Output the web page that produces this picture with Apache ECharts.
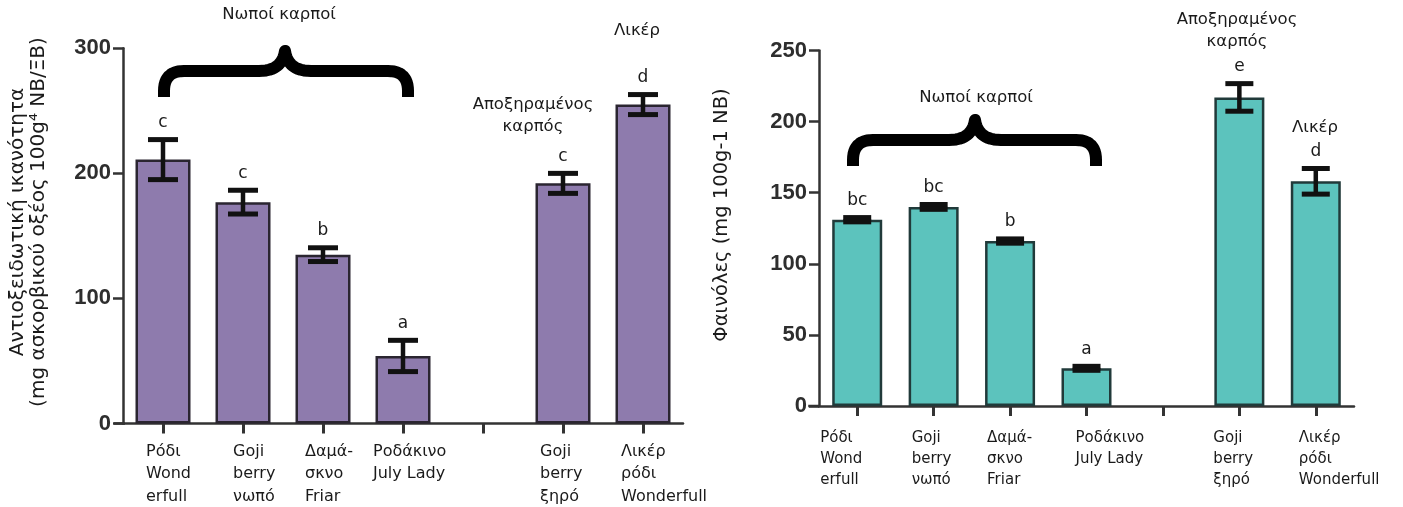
<!DOCTYPE html>
<html><head><meta charset="utf-8">
<script src="https://cdn.jsdelivr.net/npm/echarts@6/dist/echarts.min.js"></script>
<style>html,body{margin:0;padding:0;background:#fff}#c{width:1403px;height:507px}</style>
</head><body><div id="c"></div>
<script>
// ---------- data ----------
const categories = ['Ρόδι\nWond\nerfull', 'Goji\nberry\nνωπό', 'Δαμά-\nσκνο\nFriar', 'Ροδάκινο\nJuly Lady', '', 'Goji\nberry\nξηρό', 'Λικέρ\nρόδι\nWonderfull'];
const antioxValues = [211, 177, 135, 54, null, 192, 255];
const antioxErrors = [16, 9.5, 5.5, 12.5, null, 8, 8];
const antioxLetters = ['c', 'c', 'b', 'a', '', 'c', 'd'];
const phenolValues = [131, 140, 116, 26.5, null, 217, 158];
const phenolErrors = [1.5, 1.7, 1.5, 1.4, null, 9.7, 9];
const phenolLetters = ['bc', 'bc', 'b', 'a', '', 'e', 'd'];
const antioxTicks = [0, 100, 200, 300];
const phenolTicks = [0, 50, 100, 150, 200, 250];
const antioxTitle = 'Αντιοξειδωτική ικανότητα\n(mg ασκορβικού οξέος 100g⁴ NB/ΞΒ)';
const phenolTitle = 'Φαινόλες (mg 100g-1 NB)';
const groupFresh = 'Νωποί καρποί';
const groupDried = 'Αποξηραμένος\nκαρπός';
const groupLiqueur = 'Λικέρ';

// ---------- layout / style ----------
const FONT = '"DejaVu Sans", sans-serif';
const INK = '#1a1a1a';
const AXIS = '#333';
const leftLabelDx = [-17, -10, -18, -30, 0, -23, -22];
const rightLabelDx = [-37, -22, -23, -11, 0, -26, -17];

const chart = echarts.init(document.getElementById('c'), null, {renderer: 'canvas'});

function yAxisCfg(grid, ticks) {
  return {
    type: 'value', gridIndex: grid,
    min: ticks[0], max: ticks[ticks.length - 1], interval: ticks[1] - ticks[0],
    axisLine: {show: true, lineStyle: {color: AXIS, width: 2.5}},
    axisTick: {show: true, length: 10, lineStyle: {color: AXIS, width: 2.5}},
    axisLabel: {margin: 12, color: '#2e2e2e', fontFamily: '"Liberation Sans", Arial, sans-serif', fontWeight: 'bold', fontSize: 22},
    splitLine: {show: false}
  };
}
function xAxisCfg(grid) {
  return {
    type: 'category', gridIndex: grid, data: categories, boundaryGap: true,
    axisLine: {show: true, lineStyle: {color: AXIS, width: 2.5}},
    axisTick: {show: true, alignWithLabel: true, length: 10, lineStyle: {color: AXIS, width: 3}},
    axisLabel: {show: false}
  };
}
function errData(vals, errs) {
  const out = [];
  vals.forEach((v, i) => { if (v != null) out.push([i, v, errs[i]]); });
  return out;
}
function errRender(letters, hw) {
  return function (params, api) {
    const i = api.value(0), v = api.value(1), e = api.value(2);
    const top = api.coord([i, v + e]);
    const bot = api.coord([i, v - e]);
    const st = {stroke: '#111', lineWidth: 4.5};
    const cap = {stroke: '#111', lineWidth: 5};
    return {
      type: 'group', children: [
        {type: 'line', shape: {x1: top[0], y1: top[1], x2: bot[0], y2: bot[1]}, style: st},
        {type: 'line', shape: {x1: top[0] - hw, y1: top[1], x2: top[0] + hw, y2: top[1]}, style: cap},
        {type: 'line', shape: {x1: bot[0] - hw, y1: bot[1], x2: bot[0] + hw, y2: bot[1]}, style: cap},
        {type: 'text', style: {text: letters[i], x: top[0], y: top[1] - 17, align: 'center', verticalAlign: 'middle',
          font: '17px ' + FONT, fill: INK}}
      ]
    };
  };
}

chart.setOption({
  animation: false,
  backgroundColor: '#fff',
  grid: [
    {left: 123, top: 48.3, width: 560, height: 375.2},
    {left: 819, top: 50.5, width: 535, height: 355.5}
  ],
  xAxis: [xAxisCfg(0), xAxisCfg(1)],
  yAxis: [yAxisCfg(0, antioxTicks), yAxisCfg(1, phenolTicks)],
  series: [
    {type: 'bar', xAxisIndex: 0, yAxisIndex: 0, data: antioxValues, barWidth: 55,
      itemStyle: {color: '#8e7bad', borderColor: '#2a2530', borderWidth: 2.5}},
    {type: 'bar', xAxisIndex: 1, yAxisIndex: 1, data: phenolValues, barWidth: 50,
      itemStyle: {color: '#5cc3bd', borderColor: '#213a3a', borderWidth: 2.5}},
    {type: 'custom', xAxisIndex: 0, yAxisIndex: 0, data: errData(antioxValues, antioxErrors),
      renderItem: errRender(antioxLetters, 15), z: 10},
    {type: 'custom', xAxisIndex: 1, yAxisIndex: 1, data: errData(phenolValues, phenolErrors),
      renderItem: errRender(phenolLetters, 14), z: 10}
  ]
});

// ---------- annotations ----------
function bracePoints(x1, x2, xc, yb, ym, yp, r) {
  const pts = [[x1, yb]];
  const quad = (p0, c, p1) => {
    for (let k = 0; k <= 12; k++) {
      const t = k / 12, a = (1 - t) * (1 - t), b = 2 * (1 - t) * t, d = t * t;
      pts.push([a * p0[0] + b * c[0] + d * p1[0], a * p0[1] + b * c[1] + d * p1[1]]);
    }
  };
  quad([x1, ym + r], [x1, ym], [x1 + r, ym]);
  quad([xc - 26, ym], [xc - 3, ym], [xc, yp]);
  quad([xc, yp], [xc + 3, ym], [xc + 26, ym]);
  quad([x2 - r, ym], [x2, ym], [x2, ym + r]);
  pts.push([x2, yb]);
  return pts;
}
function txt(text, x, y, size, extra, lh) {
  return Object.assign({type: 'text', x: x, y: y, style: {text: text, font: size + 'px ' + FONT, fill: INK,
    align: 'center', verticalAlign: 'middle', lineHeight: lh || 22}}, extra || {});
}

const g = [];
[[0, leftLabelDx, 17, 16, 22.5], [1, rightLabelDx, 22, 15, 21]].forEach(([gi, dx, off, fs, lh]) => {
  categories.forEach((c, i) => {
    if (!c) return;
    const p = chart.convertToPixel({gridIndex: gi}, [i, 0]);
    g.push({type: 'text', x: p[0] + dx[i], y: p[1] + off,
      style: {text: c, font: fs + 'px ' + FONT, fill: INK, align: 'left', verticalAlign: 'top', lineHeight: lh}});
  });
  const o = chart.convertToPixel({gridIndex: gi}, [0, 0]);
  g.push({type: 'line', shape: {x1: o[0] - 49, y1: o[1], x2: o[0] - 38, y2: o[1]}, style: {stroke: AXIS, lineWidth: 2.5}});
});

// axis titles
g.push(txt(antioxTitle, 28, 222, 20, {rotation: Math.PI / 2}, 21));
g.push(txt(phenolTitle, 722, 215, 19.5, {rotation: Math.PI / 2}));

// group labels, left chart
g.push(txt(groupFresh, 279, 15, 16.5));
g.push(txt(groupDried, 533, 116, 16.5));
g.push(txt(groupLiqueur, 637, 31, 16.5));
// group labels, right chart
g.push(txt(groupFresh, 976, 98, 16.5));
g.push(txt(groupDried, 1237, 31, 16.5));
g.push(txt(groupLiqueur, 1315, 128, 16.5));

// braces
g.push({type: 'polyline', shape: {points: bracePoints(164, 408, 285, 97, 71, 51, 20)},
  style: {stroke: '#000', lineWidth: 12, fill: null, lineJoin: 'round', lineCap: 'butt'}});
g.push({type: 'polyline', shape: {points: bracePoints(853, 1096, 975, 166, 140, 120, 20)},
  style: {stroke: '#000', lineWidth: 12, fill: null, lineJoin: 'round', lineCap: 'butt'}});

chart.setOption({graphic: g});
</script></body></html>
